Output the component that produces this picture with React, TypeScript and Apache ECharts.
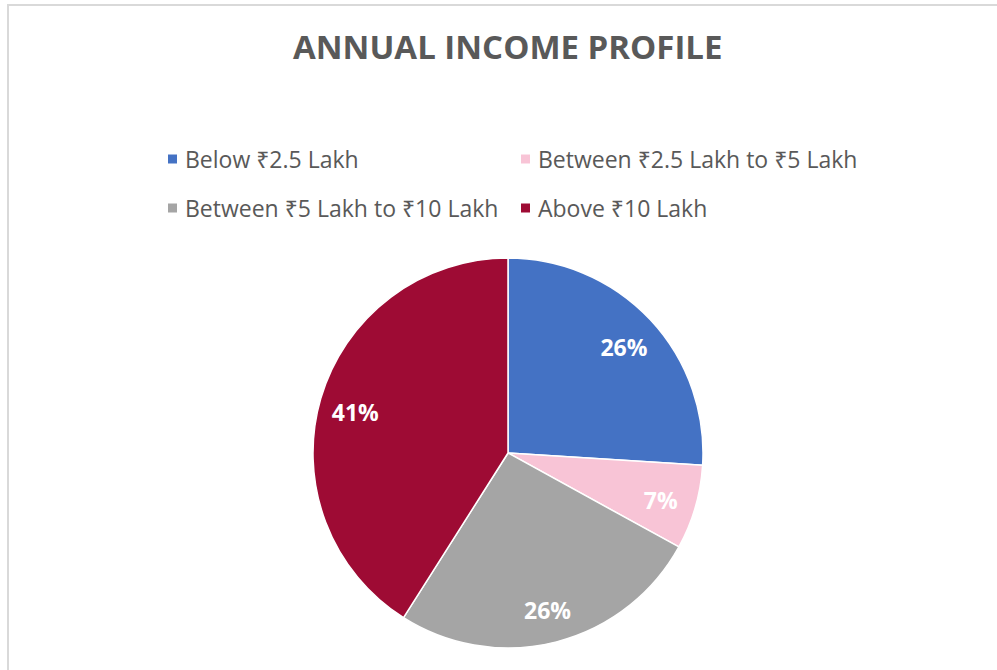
import React, { useEffect, useRef } from "react";
import * as echarts from "echarts";

const title = "ANNUAL INCOME PROFILE";
const categories = [
  "Below ₹2.5 Lakh",
  "Between ₹2.5 Lakh to ₹5 Lakh",
  "Between ₹5 Lakh to ₹10 Lakh",
  "Above ₹10 Lakh",
];
const values = [26, 7, 26, 41];
const colors = ["#4472C4", "#F8C4D6", "#A5A5A5", "#9E0B34"];

const FONT = "'Open Sans', 'Noto Sans', 'DejaVu Sans', sans-serif";

export default function App() {
  const ref = useRef<HTMLDivElement>(null);
  useEffect(() => {
    if (!ref.current) return;
    const chart = echarts.init(ref.current, undefined, { renderer: "svg" });
    const data = categories.map((name, i) => ({
      name,
      value: values[i],
      itemStyle: { color: colors[i] },
    }));
    const legendPos = [
      { left: 166, top: 147 },
      { left: 519, top: 147 },
      { left: 166, top: 196 },
      { left: 519, top: 196 },
    ];
    const legends = categories.map((name, i) => ({
      data: [name],
      left: legendPos[i].left,
      top: legendPos[i].top,
      padding: 0,
      icon: "rect",
      itemWidth: 11,
      itemHeight: 11,
      itemGap: 0,
      selectedMode: false,
      textStyle: {
        fontFamily: FONT,
        fontSize: 23,
        color: "#595959",
        padding: [0, 0, 0, 2],
        lineHeight: 24,
      },
    }));
    chart.setOption({
      animation: false,
      backgroundColor: "#FFFFFF",
      title: {
        text: title,
        left: 293,
        top: 30,
        padding: 0,
        textStyle: {
          fontFamily: FONT,
          fontSize: 33,
          fontWeight: "bold",
          color: "#595959",
        },
      },
      legend: legends,
      graphic: [
        {
          type: "rect",
          shape: { x: 8, y: 5, width: 1100, height: 800 },
          style: { fill: "none", stroke: "#D9D9D9", lineWidth: 2 },
          silent: true,
          z: -1,
        },
      ],
      series: [
        {
          type: "pie",
          center: [508, 453],
          radius: [0, 195],
          startAngle: 90,
          clockwise: true,
          data,
          label: { show: false },
          labelLine: { show: false },
          itemStyle: { borderColor: "#FFFFFF", borderWidth: 1.5 },
          silent: true,
        },
        {
          type: "pie",
          center: [508, 456],
          radius: [0, 312],
          startAngle: 90,
          clockwise: true,
          data: categories.map((name, i) => ({
            name,
            value: values[i],
            itemStyle: { color: "rgba(0,0,0,0)" },
          })),
          label: {
            show: true,
            position: "inside",
            formatter: "{d}%",
            fontFamily: FONT,
            fontSize: 23,
            fontWeight: "bold",
            color: "#FFFFFF",
          },
          labelLine: { show: false },
          itemStyle: { borderWidth: 0 },
          silent: true,
          legendHoverLink: false,
        },
      ],
    });
    return () => chart.dispose();
  }, []);
  return (
    <div
      ref={ref}
      style={{ position: "absolute", left: 0, top: 0, width: 997, height: 670 }}
    />
  );
}
